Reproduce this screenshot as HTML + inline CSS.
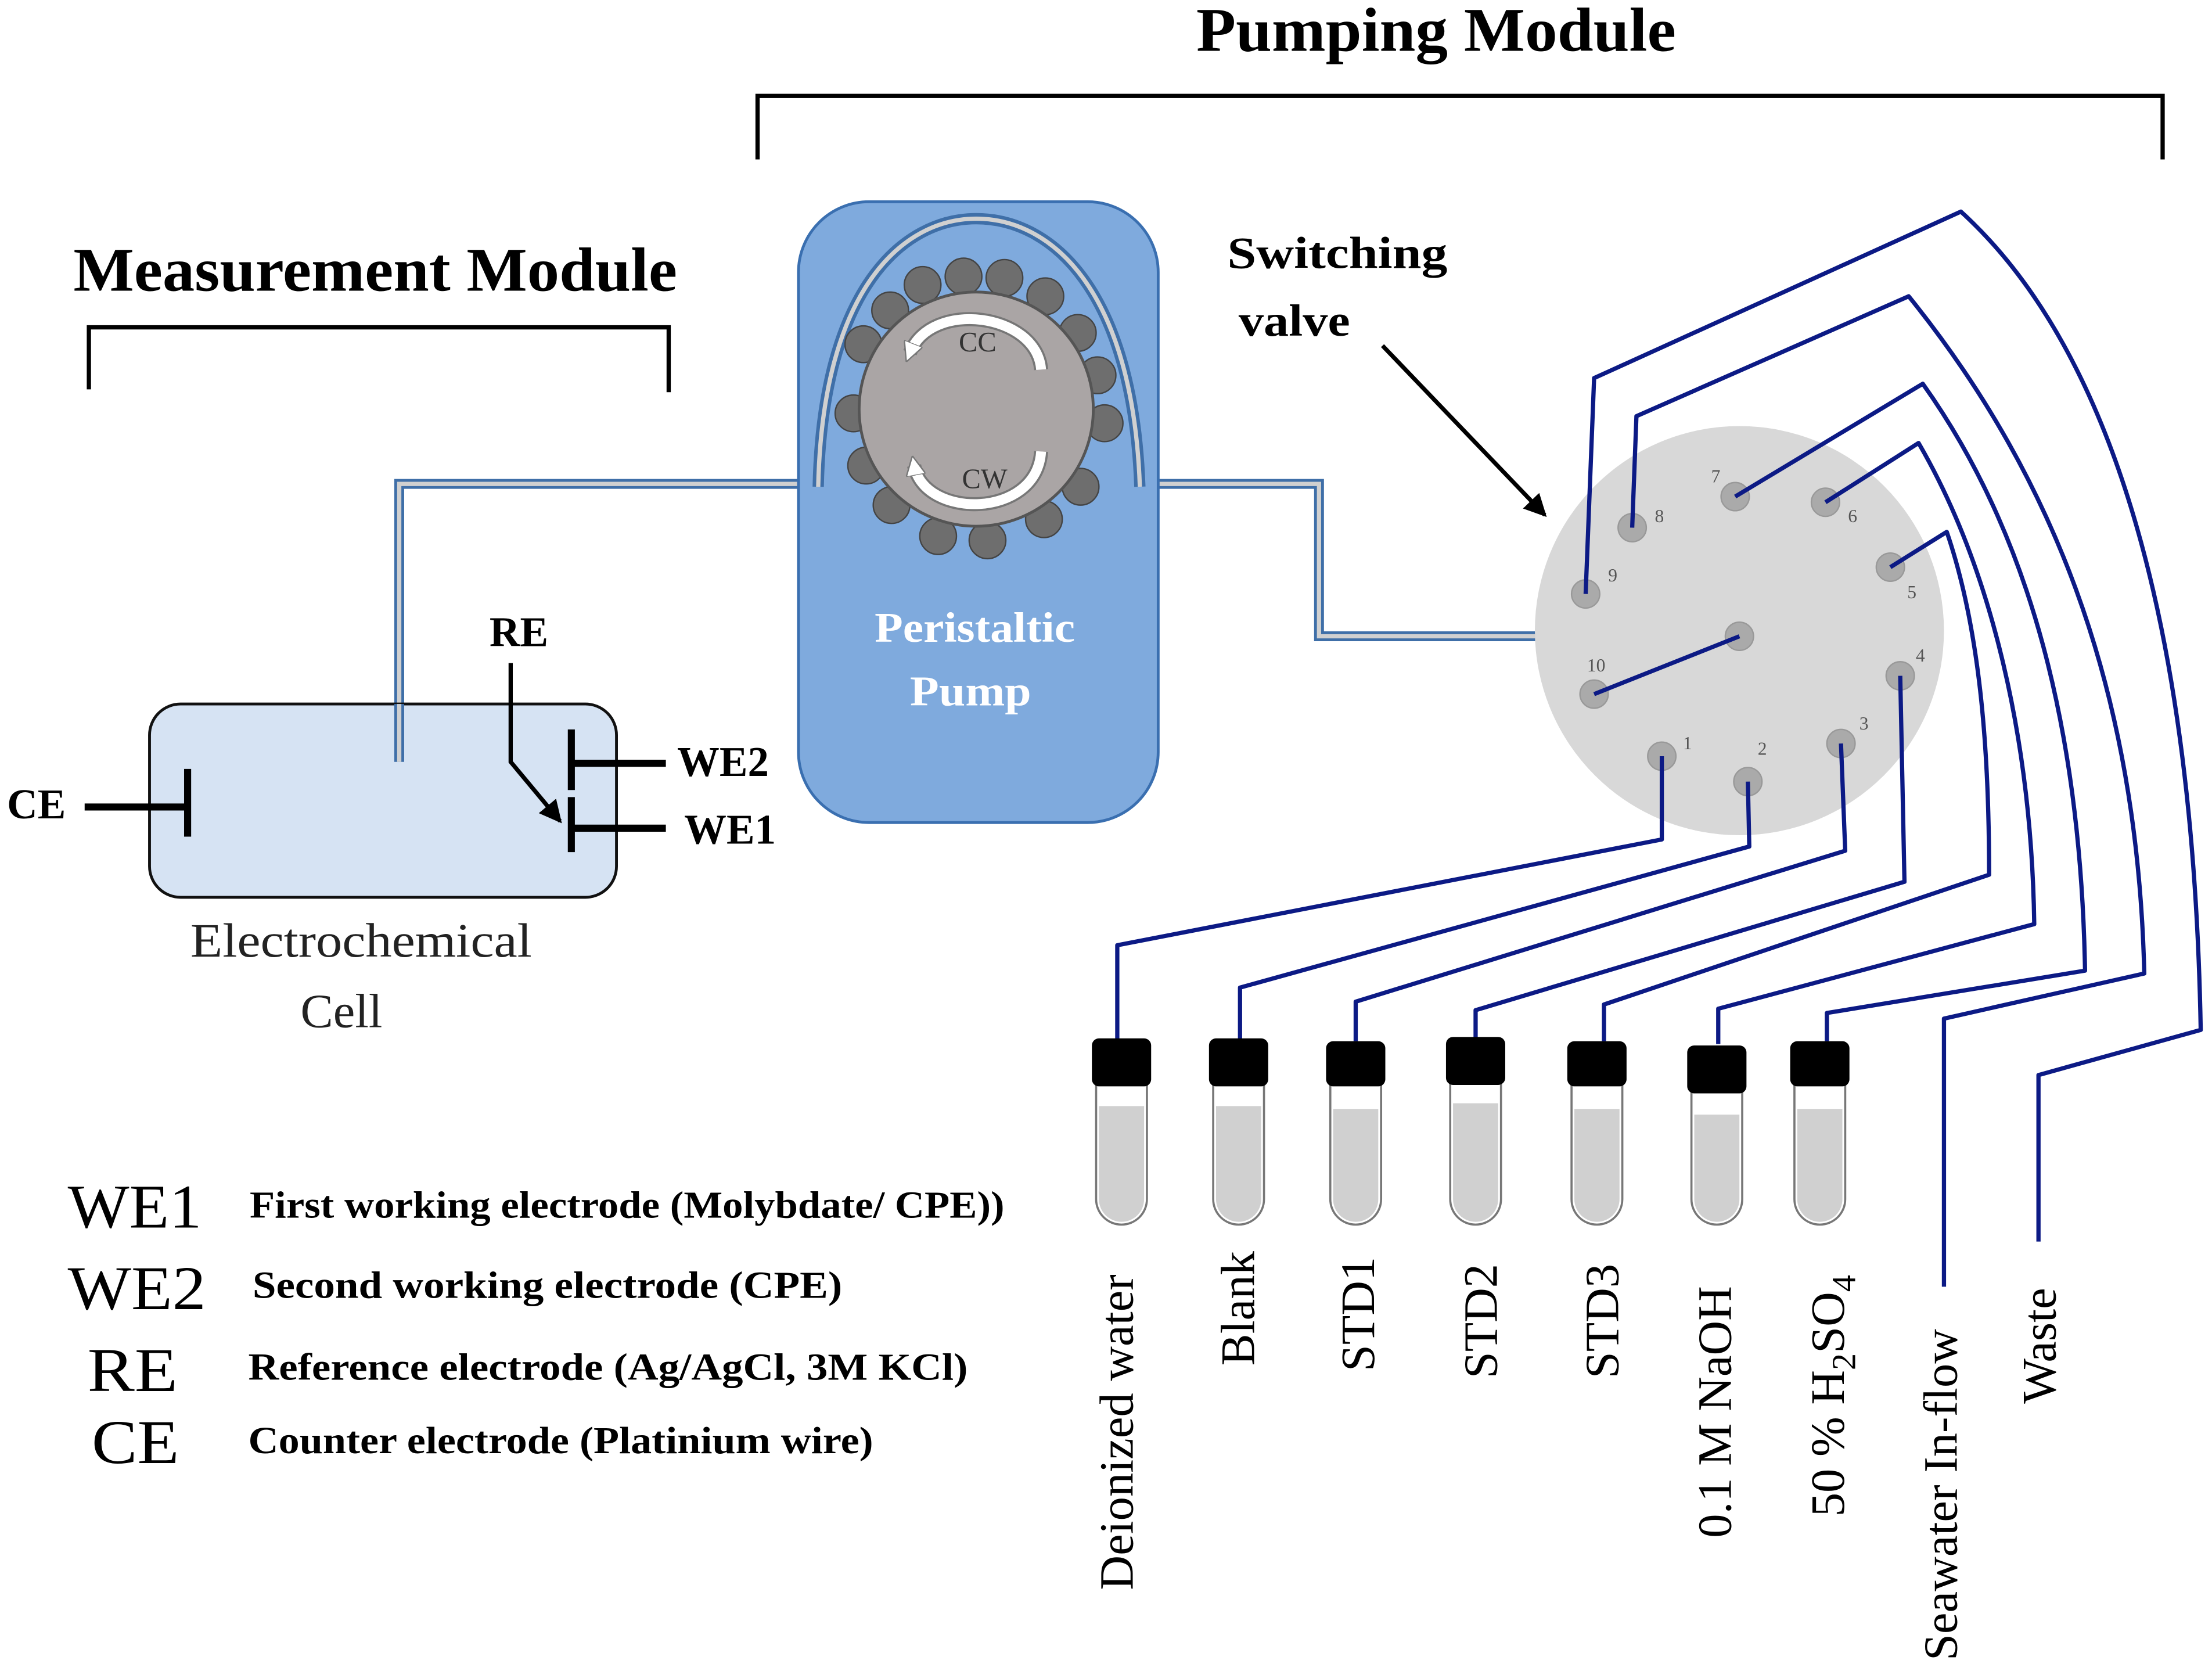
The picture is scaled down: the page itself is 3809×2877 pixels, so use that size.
<!DOCTYPE html>
<html><head><meta charset="utf-8"><style>
html,body{margin:0;padding:0;background:#fff;}
svg{display:block;}
text{font-family:"Liberation Serif",serif;}
</style></head><body>
<svg width="3809" height="2877" viewBox="0 0 1568 1184.4" preserveAspectRatio="none" xmlns="http://www.w3.org/2000/svg">
<defs>
<marker id="ah" markerWidth="14" markerHeight="14" refX="7" refY="7" orient="auto" markerUnits="userSpaceOnUse"><path d="M0,0 L14,7 L0,14 z" fill="#fff" stroke="#777" stroke-width="1"/></marker>
<marker id="ah2" markerWidth="16" markerHeight="16" refX="14" refY="8" orient="auto" markerUnits="userSpaceOnUse"><path d="M0,0 L16,8 L0,16 z" fill="#000"/></marker>
</defs>
<!-- Titles -->
<text x="848" y="36" font-size="44" font-weight="bold" textLength="340" lengthAdjust="spacingAndGlyphs">Pumping Module</text>
<text x="52" y="206" font-size="44" font-weight="bold" textLength="428" lengthAdjust="spacingAndGlyphs">Measurement Module</text>
<path d="M537,113 V68 H1533 V113" fill="none" stroke="#000" stroke-width="3"/>
<path d="M63,276 V232 H474 V278" fill="none" stroke="#000" stroke-width="3"/>

<!-- Tubing -->
<g fill="none" stroke-linejoin="miter">
<path d="M283,540 V343 H583" stroke="#3f6fa8" stroke-width="7"/>
<path d="M283,540 V343 H583" stroke="#d0d0d0" stroke-width="3"/>
<path d="M805,343 H935 V451 H1233" stroke="#3f6fa8" stroke-width="7"/>
<path d="M805,343 H935 V451 H1233" stroke="#d0d0d0" stroke-width="3"/>
</g>

<!-- Pump -->
<rect x="566" y="143" width="255" height="440" rx="50" fill="#7faadd" stroke="#3a6fb0" stroke-width="2"/>
<path d="M580,345 C583,205 640,155 692,155 C745,155 803,205 808,345" fill="none" stroke="#3f6fa8" stroke-width="8"/>
<path d="M580,345 C583,205 640,155 692,155 C745,155 803,205 808,345" fill="none" stroke="#d0d0d0" stroke-width="3"/>
<g fill="#6e6e6e" stroke="#444" stroke-width="1">
<circle cx="683" cy="196" r="13"/><circle cx="712" cy="197" r="13"/><circle cx="741" cy="210" r="13"/><circle cx="654" cy="202" r="13"/><circle cx="631" cy="220" r="13"/>
<circle cx="764" cy="236" r="13"/><circle cx="612" cy="244" r="13"/><circle cx="778" cy="266" r="13"/><circle cx="605" cy="293" r="13"/><circle cx="783" cy="300" r="13"/>
<circle cx="614" cy="330" r="13"/><circle cx="766" cy="345" r="13"/><circle cx="632" cy="358" r="13"/><circle cx="740" cy="368" r="13"/><circle cx="665" cy="380" r="13"/><circle cx="700" cy="383" r="13"/>
</g>
<circle cx="692" cy="290" r="83" fill="#aaa5a5" stroke="#555" stroke-width="2"/>
<path d="M738,262 C735,222 660,212 645,250" fill="none" stroke="#777" stroke-width="10"/>
<path d="M738,262 C735,222 660,212 645,250" fill="none" stroke="#fff" stroke-width="7" marker-end="url(#ah)"/>
<path d="M738,320 C735,368 655,368 648,330" fill="none" stroke="#777" stroke-width="10"/>
<path d="M738,320 C735,368 655,368 648,330" fill="none" stroke="#fff" stroke-width="7" marker-end="url(#ah)"/>
<text x="693" y="249" font-size="20" text-anchor="middle" fill="#333">CC</text>
<text x="698" y="346" font-size="20" text-anchor="middle" fill="#333">CW</text>
<text x="620" y="455" font-size="30" font-weight="bold" fill="#fff" textLength="142" lengthAdjust="spacingAndGlyphs">Peristaltic</text>
<text x="645" y="500" font-size="30" font-weight="bold" fill="#fff" textLength="86" lengthAdjust="spacingAndGlyphs">Pump</text>

<!-- Switching valve label -->
<text x="870" y="190" font-size="32" font-weight="bold" textLength="156" lengthAdjust="spacingAndGlyphs">Switching</text>
<text x="878" y="238" font-size="32" font-weight="bold" textLength="79" lengthAdjust="spacingAndGlyphs">valve</text>
<line x1="980" y1="245" x2="1095" y2="365" stroke="#000" stroke-width="3" marker-end="url(#ah2)"/>

<!-- Valve -->
<circle cx="1233" cy="447" r="145" fill="#d8d8d8"/>
<g fill="#aaa" stroke="#999">
<circle cx="1230" cy="352" r="10"/><circle cx="1157" cy="374" r="10"/><circle cx="1294" cy="356" r="10"/><circle cx="1124" cy="421" r="10"/><circle cx="1340" cy="402" r="10"/>
<circle cx="1130" cy="492" r="10"/><circle cx="1347" cy="479" r="10"/><circle cx="1178" cy="536" r="10"/><circle cx="1239" cy="554" r="10"/><circle cx="1305" cy="527" r="10"/><circle cx="1233" cy="451" r="10"/>
</g>
<g font-size="13" fill="#555">
<text x="1213" y="342">7</text><text x="1173" y="370">8</text><text x="1310" y="370">6</text><text x="1140" y="412">9</text><text x="1352" y="424">5</text>
<text x="1125" y="476">10</text><text x="1358" y="469">4</text><text x="1193" y="531">1</text><text x="1246" y="535">2</text><text x="1318" y="517">3</text>
</g>
<g fill="none" stroke="#0c1a85" stroke-width="3" stroke-linejoin="round">
<path d="M1233,451 L1130,492"/>
<path d="M1124,421 L1130,268 L1390,150 C1500,250 1555,450 1560,730 L1445,762 V880"/>
<path d="M1157,374 L1160,295 L1353,210 C1450,330 1515,480 1520,690 L1378,722 V912"/>
<path d="M1230,352 L1363,272 C1440,380 1475,520 1478,688 L1295,718 V738"/>
<path d="M1294,356 L1360,314 C1410,400 1440,520 1442,655 L1218,715 V740"/>
<path d="M1340,402 L1380,377 C1405,450 1410,540 1410,620 L1137,712 V738"/>
<path d="M1347,479 L1350,625 L1046,716 V738"/>
<path d="M1305,527 L1308,603 L961,710 V738"/>
<path d="M1239,554 L1240,600 L879,700 V738"/>
<path d="M1178,536 L1178,595 L792,670 V738"/>
</g>

<!-- Tubes -->
<g stroke="#777" stroke-width="1.5">
<path d="M777,768 V850 A18,18 0 0 0 813,850 V768 Z" fill="#fff"/><path d="M779,784 H811 V850 A16,16 0 0 1 779,850 Z" fill="#d0d0d0" stroke="none"/>
<path d="M860,768 V850 A18,18 0 0 0 896,850 V768 Z" fill="#fff"/><path d="M862,784 H894 V850 A16,16 0 0 1 862,850 Z" fill="#d0d0d0" stroke="none"/>
<path d="M943,768 V850 A18,18 0 0 0 979,850 V768 Z" fill="#fff"/><path d="M945,786 H977 V850 A16,16 0 0 1 945,850 Z" fill="#d0d0d0" stroke="none"/>
<path d="M1028,768 V850 A18,18 0 0 0 1064,850 V768 Z" fill="#fff"/><path d="M1030,782 H1062 V850 A16,16 0 0 1 1030,850 Z" fill="#d0d0d0" stroke="none"/>
<path d="M1114,768 V850 A18,18 0 0 0 1150,850 V768 Z" fill="#fff"/><path d="M1116,786 H1148 V850 A16,16 0 0 1 1116,850 Z" fill="#d0d0d0" stroke="none"/>
<path d="M1199,772 V850 A18,18 0 0 0 1235,850 V772 Z" fill="#fff"/><path d="M1201,790 H1233 V850 A16,16 0 0 1 1201,850 Z" fill="#d0d0d0" stroke="none"/>
<path d="M1272,768 V850 A18,18 0 0 0 1308,850 V768 Z" fill="#fff"/><path d="M1274,786 H1306 V850 A16,16 0 0 1 1274,850 Z" fill="#d0d0d0" stroke="none"/>
</g>
<g fill="#000">
<rect x="774" y="736" width="42" height="34" rx="5"/>
<rect x="857" y="736" width="42" height="34" rx="5"/>
<rect x="940" y="738" width="42" height="32" rx="5"/>
<rect x="1025" y="735" width="42" height="34" rx="5"/>
<rect x="1111" y="738" width="42" height="32" rx="5"/>
<rect x="1196" y="741" width="42" height="34" rx="5"/>
<rect x="1269" y="738" width="42" height="32" rx="5"/>
</g>
<g font-size="34">
<text transform="translate(803,1127) rotate(-90)">Deionized water</text>
<text transform="translate(889,968) rotate(-90)">Blank</text>
<text transform="translate(974,972) rotate(-90)">STD1</text>
<text transform="translate(1061,977) rotate(-90)">STD2</text>
<text transform="translate(1147,977) rotate(-90)">STD3</text>
<text transform="translate(1227,1090) rotate(-90)">0.1 M NaOH</text>
<text transform="translate(1307,1075) rotate(-90)">50 % H<tspan font-size="24" dy="8">2</tspan><tspan dy="-8">SO</tspan><tspan font-size="24" dy="8">4</tspan></text>
<text transform="translate(1387,1177) rotate(-90)">Seawater In-flow</text>
<text transform="translate(1457,995) rotate(-90)">Waste</text>
</g>

<!-- Cell -->
<rect x="106" y="499" width="331" height="137" rx="22" fill="#d6e3f3" stroke="#111" stroke-width="2"/>
<path d="M283,540 V499" stroke="#3f6fa8" stroke-width="7"/>
<path d="M283,540 V499" stroke="#d0d0d0" stroke-width="3"/>
<text x="135" y="678" font-size="34" fill="#222" textLength="242" lengthAdjust="spacingAndGlyphs">Electrochemical</text>
<text x="213" y="728" font-size="34" fill="#222" textLength="58" lengthAdjust="spacingAndGlyphs">Cell</text>
<text x="5" y="580" font-size="30" font-weight="bold">CE</text>
<path d="M60,572 H133 M133,545 V593" stroke="#000" stroke-width="5" fill="none"/>
<text x="347" y="458" font-size="30" font-weight="bold">RE</text>
<path d="M362,470 V540 L397,582" stroke="#000" stroke-width="3" fill="none" marker-end="url(#ah2)"/>
<path d="M405,517 V560 M405,565 V604 M405,541 H472 M405,587 H472" stroke="#000" stroke-width="5" fill="none"/>
<text x="480" y="550" font-size="30" font-weight="bold">WE2</text>
<text x="485" y="598" font-size="30" font-weight="bold">WE1</text>

<!-- Legend -->
<text x="48" y="870" font-size="44" textLength="95" lengthAdjust="spacingAndGlyphs">WE1</text>
<text x="177" y="863" font-size="27" font-weight="bold" textLength="535" lengthAdjust="spacingAndGlyphs">First working electrode (Molybdate/ CPE))</text>
<text x="48" y="928" font-size="44" textLength="98" lengthAdjust="spacingAndGlyphs">WE2</text>
<text x="179" y="920" font-size="27" font-weight="bold" textLength="418" lengthAdjust="spacingAndGlyphs">Second working electrode (CPE)</text>
<text x="62" y="986" font-size="44" textLength="64" lengthAdjust="spacingAndGlyphs">RE</text>
<text x="176" y="978" font-size="27" font-weight="bold" textLength="510" lengthAdjust="spacingAndGlyphs">Reference electrode (Ag/AgCl, 3M KCl)</text>
<text x="65" y="1037" font-size="44" textLength="62" lengthAdjust="spacingAndGlyphs">CE</text>
<text x="176" y="1030" font-size="27" font-weight="bold" textLength="443" lengthAdjust="spacingAndGlyphs">Counter electrode (Platinium wire)</text>
</svg>
</body></html>
